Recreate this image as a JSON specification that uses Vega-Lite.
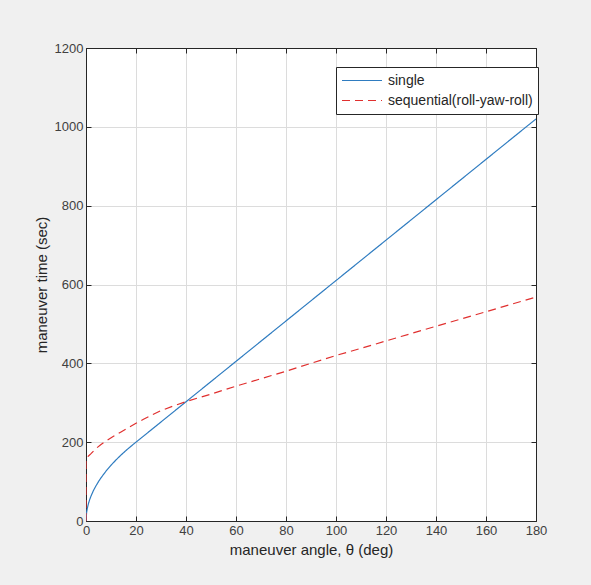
{
  "$schema": "https://vega.github.io/schema/vega-lite/v6.json",
  "autosize": {"type": "none"},
  "width": 450,
  "height": 473,
  "padding": {"left": 86, "top": 48, "right": 55, "bottom": 64},
  "background": "#f0f0f0",
  "config": {
    "view": {"stroke": "#262626", "strokeWidth": 1, "fill": "white"},
    "font": "Liberation Sans",
    "axis": {
      "labelFont": "Liberation Sans", "titleFont": "Liberation Sans",
      "labelFontSize": 13, "labelColor": "#404040", "labelFlush": false,
      "titleFontSize": 15, "titleFontWeight": "normal", "titleColor": "#262626",
      "domainColor": "#262626", "tickColor": "#262626",
      "gridColor": "#dcdcdc", "gridOpacity": 1, "gridWidth": 1
    }
  },
  "data": {"values": [
    {"series": "single", "i": 0, "angle": 0, "time": 0},
    {"series": "single", "i": 1, "angle": 0.25, "time": 22.4},
    {"series": "single", "i": 2, "angle": 0.5, "time": 31.6},
    {"series": "single", "i": 3, "angle": 1, "time": 44.7},
    {"series": "single", "i": 4, "angle": 1.5, "time": 54.8},
    {"series": "single", "i": 5, "angle": 2, "time": 63.2},
    {"series": "single", "i": 6, "angle": 3, "time": 77.5},
    {"series": "single", "i": 7, "angle": 4, "time": 89.4},
    {"series": "single", "i": 8, "angle": 5, "time": 100},
    {"series": "single", "i": 9, "angle": 6, "time": 109.5},
    {"series": "single", "i": 10, "angle": 8, "time": 126.5},
    {"series": "single", "i": 11, "angle": 10, "time": 141.4},
    {"series": "single", "i": 12, "angle": 12, "time": 154.9},
    {"series": "single", "i": 13, "angle": 14, "time": 167.3},
    {"series": "single", "i": 14, "angle": 16, "time": 178.9},
    {"series": "single", "i": 15, "angle": 18, "time": 189.7},
    {"series": "single", "i": 16, "angle": 19.5, "time": 197.5},
    {"series": "single", "i": 17, "angle": 22, "time": 210.3},
    {"series": "single", "i": 18, "angle": 25, "time": 225.6},
    {"series": "single", "i": 19, "angle": 40, "time": 302.5},
    {"series": "single", "i": 20, "angle": 60, "time": 405},
    {"series": "single", "i": 21, "angle": 100, "time": 610},
    {"series": "single", "i": 22, "angle": 140, "time": 815},
    {"series": "single", "i": 23, "angle": 180, "time": 1020},
    {"series": "sequential(roll-yaw-roll)", "i": 0, "angle": 0, "time": 0},
    {"series": "sequential(roll-yaw-roll)", "i": 1, "angle": 0, "time": 158},
    {"series": "sequential(roll-yaw-roll)", "i": 2, "angle": 0.5, "time": 162},
    {"series": "sequential(roll-yaw-roll)", "i": 3, "angle": 1, "time": 165},
    {"series": "sequential(roll-yaw-roll)", "i": 4, "angle": 2, "time": 171},
    {"series": "sequential(roll-yaw-roll)", "i": 5, "angle": 4, "time": 184},
    {"series": "sequential(roll-yaw-roll)", "i": 6, "angle": 6, "time": 194},
    {"series": "sequential(roll-yaw-roll)", "i": 7, "angle": 8, "time": 203},
    {"series": "sequential(roll-yaw-roll)", "i": 8, "angle": 11, "time": 215},
    {"series": "sequential(roll-yaw-roll)", "i": 9, "angle": 14, "time": 226},
    {"series": "sequential(roll-yaw-roll)", "i": 10, "angle": 17, "time": 237},
    {"series": "sequential(roll-yaw-roll)", "i": 11, "angle": 20, "time": 248},
    {"series": "sequential(roll-yaw-roll)", "i": 12, "angle": 23, "time": 258},
    {"series": "sequential(roll-yaw-roll)", "i": 13, "angle": 26, "time": 268},
    {"series": "sequential(roll-yaw-roll)", "i": 14, "angle": 30, "time": 280},
    {"series": "sequential(roll-yaw-roll)", "i": 15, "angle": 35, "time": 292},
    {"series": "sequential(roll-yaw-roll)", "i": 16, "angle": 40, "time": 303},
    {"series": "sequential(roll-yaw-roll)", "i": 17, "angle": 50, "time": 322},
    {"series": "sequential(roll-yaw-roll)", "i": 18, "angle": 60, "time": 342},
    {"series": "sequential(roll-yaw-roll)", "i": 19, "angle": 70, "time": 361},
    {"series": "sequential(roll-yaw-roll)", "i": 20, "angle": 80, "time": 380},
    {"series": "sequential(roll-yaw-roll)", "i": 21, "angle": 100, "time": 420},
    {"series": "sequential(roll-yaw-roll)", "i": 22, "angle": 110, "time": 438},
    {"series": "sequential(roll-yaw-roll)", "i": 23, "angle": 126, "time": 468},
    {"series": "sequential(roll-yaw-roll)", "i": 24, "angle": 140, "time": 494},
    {"series": "sequential(roll-yaw-roll)", "i": 25, "angle": 160, "time": 531},
    {"series": "sequential(roll-yaw-roll)", "i": 26, "angle": 180, "time": 568}
  ]},
  "layer": [
    {
      "mark": {"type": "line", "strokeWidth": 1.2, "clip": true},
      "encoding": {
        "x": {"field": "angle", "type": "quantitative",
              "scale": {"domain": [0, 180], "nice": false},
              "axis": {"orient": "bottom", "values": [0,20,40,60,80,100,120,140,160,180],
                       "title": "maneuver angle, θ (deg)", "tickSize": -5, "labelPadding": 8,
                       "titlePadding": 5, "grid": true}},
        "y": {"field": "time", "type": "quantitative",
              "scale": {"domain": [0, 1200], "nice": false},
              "axis": {"orient": "left", "values": [0,200,400,600,800,1000,1200], "format": "d",
                       "title": "maneuver time (sec)", "tickSize": -5, "labelPadding": 8,
                       "titlePadding": 5, "grid": true}},
        "order": {"field": "i", "type": "quantitative"},
        "color": {"field": "series", "type": "nominal",
                  "scale": {"domain": ["single", "sequential(roll-yaw-roll)"], "range": ["#2f7cc0", "#e0302f"]},
                  "legend": {"title": null, "orient": "none", "legendX": 250, "legendY": 19,
                             "symbolType": "stroke", "symbolSize": 1600, "symbolStrokeWidth": 1.2,
                             "clipHeight": 17,
                             "labelFontSize": 14, "labelFont": "Liberation Sans", "labelColor": "#262626",
                             "strokeColor": "#262626", "fillColor": "white", "padding": 5,
                             "rowPadding": 3, "labelOffset": 5}},
        "strokeDash": {"field": "series", "type": "nominal",
                       "scale": {"domain": ["single", "sequential(roll-yaw-roll)"], "range": [[1, 0], [8, 5]]},
                       "legend": null}
      }
    },
    {
      "mark": {"type": "point", "opacity": 0},
      "encoding": {
        "x": {"field": "angle", "type": "quantitative",
              "axis": {"orient": "top", "values": [0,20,40,60,80,100,120,140,160,180],
                       "labels": false, "title": null, "tickSize": -5, "grid": false}},
        "y": {"field": "time", "type": "quantitative",
              "axis": {"orient": "right", "values": [0,200,400,600,800,1000,1200],
                       "labels": false, "title": null, "tickSize": -5, "grid": false}}
      }
    }
  ],
  "resolve": {"axis": {"x": "independent", "y": "independent"}}
}
